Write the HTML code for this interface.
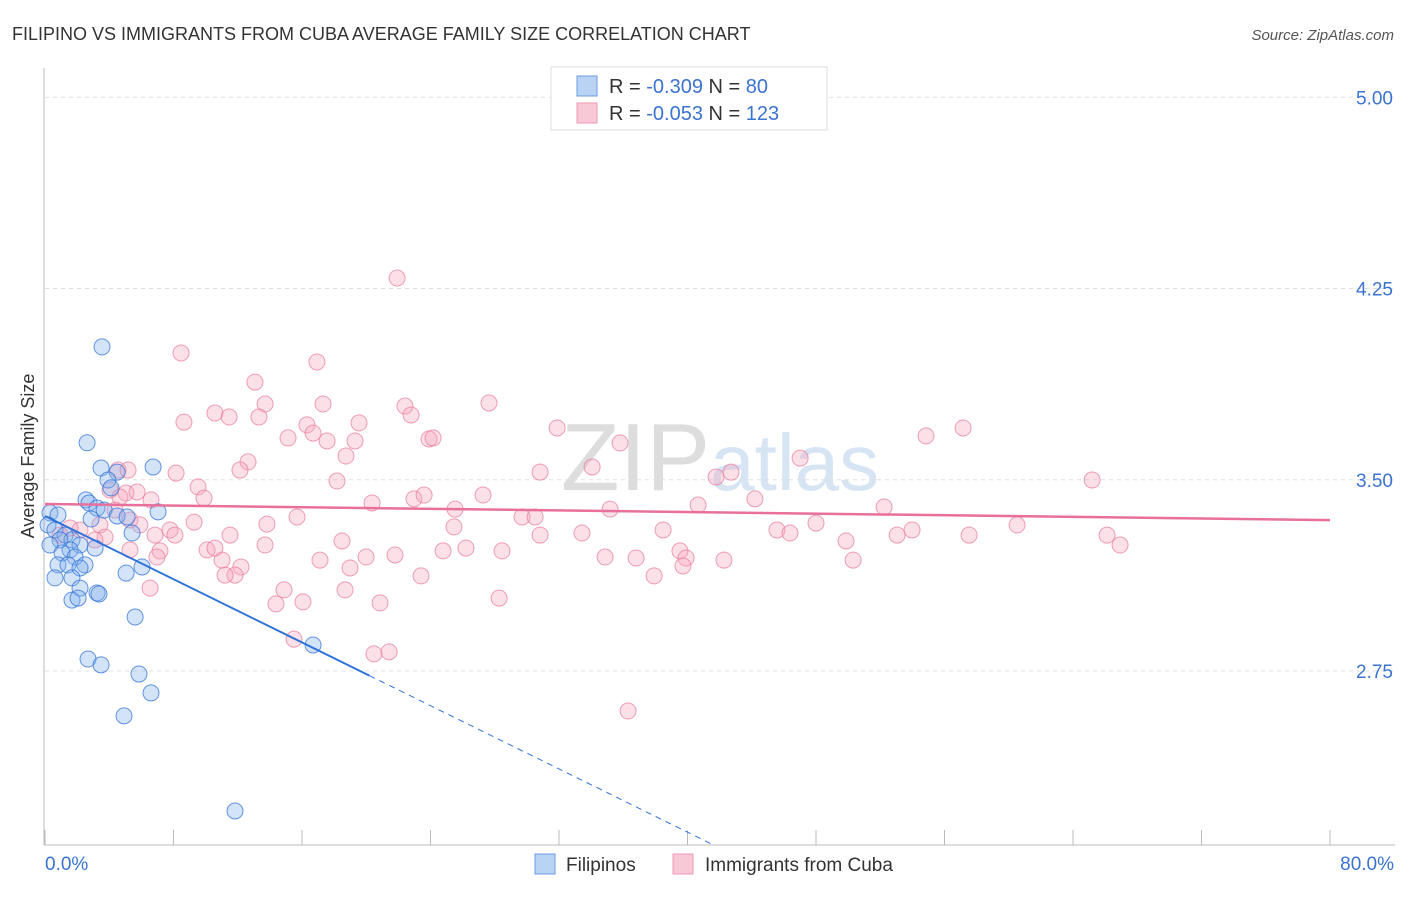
<!DOCTYPE html>
<html><head><meta charset="utf-8"><style>
body{margin:0;background:#fff;font-family:"Liberation Sans",sans-serif}
svg text{font-family:"Liberation Sans",sans-serif}
</style></head><body>
<svg id="c" width="1406" height="892" xmlns="http://www.w3.org/2000/svg">
<text x="12" y="40" font-size="18" fill="#333">FILIPINO VS IMMIGRANTS FROM CUBA AVERAGE FAMILY SIZE CORRELATION CHART</text>
<text x="1394" y="40" font-size="15" fill="#555" font-style="italic" text-anchor="end">Source: ZipAtlas.com</text>
<text x="720" y="490" font-size="96" fill="#e4e4e4" text-anchor="middle" font-family="Liberation Serif"><tspan fill="#ddd">ZIP</tspan><tspan fill="#d6e4f3" font-family="Liberation Sans" font-size="80">atlas</tspan></text>
<text transform="translate(34,456) rotate(-90)" font-size="18" fill="#333" text-anchor="middle">Average Family Size</text>
<g id="grid"></g><g id="axes"></g><g id="pts"></g><g id="trend"></g>
<g>
<rect x="551" y="67" width="276" height="63" fill="#fff" stroke="#ddd"/>
<rect x="577" y="76" width="20" height="20" fill="#b9d3f5" stroke="#6b9be0"/>
<rect x="577" y="103" width="20" height="20" fill="#f9c8d6" stroke="#ec9ab4"/>
<text x="609" y="93" font-size="20" fill="#333">R = <tspan fill="#3b73d1">-0.309</tspan>   N =  <tspan fill="#3b73d1">80</tspan></text>
<text x="609" y="120" font-size="20" fill="#333">R = <tspan fill="#3b73d1">-0.053</tspan>   N = <tspan fill="#3b73d1">123</tspan></text>
</g>
<g>
<rect x="535" y="854" width="20" height="20" fill="#b9d3f5" stroke="#6b9be0"/>
<text x="566" y="871" font-size="19" fill="#333">Filipinos</text>
<rect x="673" y="854" width="20" height="20" fill="#f9c8d6" stroke="#ec9ab4"/>
<text x="705" y="871" font-size="19" fill="#333">Immigrants from Cuba</text>
</g>
</svg>
<script>
const yTicks=[5.00,4.25,3.50,2.75];
const xTickLabels=["0.0%","80.0%"];
const blueX=[3.55,2.62,6.73,3.49,4.49,3.92,4.11,2.55,2.74,3.24,3.68,7.04,4.49,5.11,2.87,0.31,0.81,0.19,0.62,1.25,1.68,0.93,2.18,3.12,0.31,1.56,1.06,1.87,2.49,0.81,1.43,2.18,5.05,0.62,1.68,2.18,3.24,1.68,2.06,3.36,5.61,2.68,3.49,5.85,6.6,4.92,16.69,11.83,6.04,5.42];
const blueY=[4.021,3.645,3.55,3.546,3.53,3.499,3.468,3.421,3.409,3.389,3.381,3.374,3.358,3.354,3.346,3.37,3.362,3.323,3.303,3.283,3.264,3.264,3.244,3.232,3.244,3.225,3.213,3.197,3.166,3.166,3.166,3.154,3.134,3.115,3.115,3.075,3.056,3.028,3.036,3.052,2.962,2.797,2.774,2.738,2.664,2.574,2.852,2.201,3.158,3.291];
const pinkX=[21.92,8.47,16.93,13.07,8.65,10.58,11.46,13.70,13.32,17.31,15.13,16.31,16.69,17.56,19.55,19.30,18.74,22.41,22.79,23.91,24.16,27.64,31.88,35.80,30.82,34.06,41.78,42.71,47.01,54.85,57.16,65.19,8.16,9.53,9.90,4.05,4.55,12.64,12.14,18.18,20.36,22.97,23.60,27.27,25.53,29.70,30.51,35.18,40.66,44.20,52.24,48.00,45.57,46.38,38.48,25.46,9.28,13.82,15.69,33.43,49.87,53.05,53.98,57.53,60.52,66.12,66.93,18.49,19.99,24.78,26.21,28.45,30.82,34.87,36.80,39.53,39.91,42.27,50.31,39.72,37.92,23.41,18.99,12.20,11.83,11.02,10.09,10.58,7.16,5.29,6.97,6.60,7.78,5.04,4.67,5.29,3.42,2.18,1.56,0.93,3.74,14.88,16.06,14.38,20.86,28.27,6.54,15.50,20.48,21.42,36.30,5.73,5.17,6.85,4.36,5.91,3.11,8.09,11.21,11.52,13.70,17.12,18.68,21.79];
const pinkY=[4.291,3.997,3.962,3.883,3.726,3.762,3.746,3.797,3.746,3.797,3.664,3.715,3.683,3.652,3.723,3.652,3.593,3.789,3.754,3.66,3.664,3.801,3.703,3.644,3.53,3.55,3.511,3.53,3.585,3.672,3.703,3.499,3.526,3.472,3.428,3.46,3.538,3.57,3.538,3.495,3.409,3.425,3.44,3.44,3.385,3.354,3.354,3.385,3.401,3.425,3.393,3.33,3.303,3.291,3.303,3.315,3.334,3.326,3.354,3.291,3.26,3.283,3.303,3.283,3.323,3.283,3.244,3.26,3.197,3.221,3.232,3.221,3.283,3.197,3.193,3.221,3.193,3.185,3.185,3.162,3.123,3.123,3.154,3.158,3.126,3.185,3.225,3.232,3.221,3.225,3.197,3.421,3.303,3.448,3.432,3.342,3.323,3.303,3.311,3.283,3.275,3.068,3.021,3.013,3.017,3.036,3.075,2.875,2.817,2.825,2.593,3.452,3.538,3.283,3.381,3.323,3.264,3.283,3.126,3.283,3.244,3.185,3.068,3.205];
const blueTrend=[3.358,-0.031];
const pinkTrend=[3.405,-0.00079];
const NS="http://www.w3.org/2000/svg";
const sx=v=>45+v/80*1285;
const sy=v=>671-(v-2.75)*255;
function mk(t,a,p){const e=document.createElementNS(NS,t);for(const k in a)e.setAttribute(k,a[k]);p.appendChild(e);return e;}
const grid=document.getElementById('grid'),axes=document.getElementById('axes'),pts=document.getElementById('pts'),tr=document.getElementById('trend');
yTicks.forEach(v=>{
 const l=mk('line',{x1:45,x2:1395,y1:sy(v),y2:sy(v),stroke:'#e0e0e0','stroke-dasharray':'4,4'},grid);
 
 
 const t=mk('text',{x:1393,y:sy(v)+7,'font-size':19,fill:'#3b73d1','text-anchor':'end'},grid);
 t.textContent=v.toFixed(2);
 
 
});
const ya=mk('line',{x1:44,x2:44,y1:68,y2:845,stroke:'#bbb'},axes);


const xa=mk('line',{x1:44,x2:1395,y1:845,y2:845,stroke:'#bbb'},axes);


for(let i=0;i<=10;i++){
 const tk=mk('line',{x1:sx(i*8),x2:sx(i*8),y1:830,y2:845,stroke:'#bbb'},axes);
 
 
}
[[0,'start',45],[80,'end',1394]].forEach((d,i)=>{
 const t=mk('text',{x:d[2],y:870,'font-size':19,fill:'#3b73d1','text-anchor':d[1]},axes);
 t.textContent=xTickLabels[i];
 
 
});
pinkX.forEach((x,i)=>{
 const c=mk('circle',{cx:sx(x),cy:sy(pinkY[i]),r:8,fill:'rgba(246,166,190,0.35)',stroke:'rgba(232,120,155,0.7)','stroke-width':1},pts);
 
 
});
blueX.forEach((x,i)=>{
 const c=mk('circle',{cx:sx(x),cy:sy(blueY[i]),r:8,fill:'rgba(130,175,235,0.35)',stroke:'rgba(50,115,215,0.75)','stroke-width':1},pts);
 
 
});
const bAt=x=>blueTrend[0]+blueTrend[1]*x;
const xEnd=(2.068-blueTrend[0])/blueTrend[1];
const b1=mk('line',{x1:sx(0),y1:sy(bAt(0)),x2:sx(20.2),y2:sy(bAt(20.2)),stroke:'#2f72d8','stroke-width':2},tr);


const b2=mk('line',{x1:sx(20.2),y1:sy(bAt(20.2)),x2:sx(xEnd),y2:sy(bAt(xEnd)),stroke:'#2f72d8','stroke-width':1,'stroke-dasharray':'6,5'},tr);


const p1=mk('line',{x1:sx(0),y1:sy(pinkTrend[0]),x2:sx(80),y2:sy(pinkTrend[0]+pinkTrend[1]*80),stroke:'#e8709a','stroke-width':2.5},tr);


</script>
</body></html>
